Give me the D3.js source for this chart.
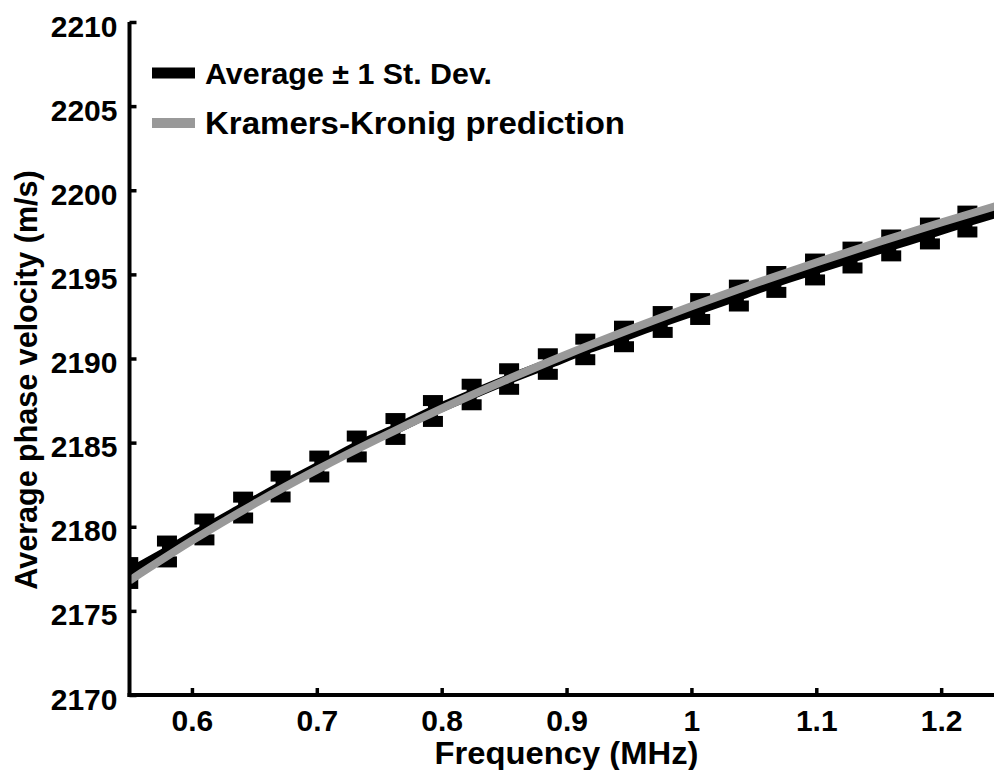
<!DOCTYPE html>
<html>
<head>
<meta charset="utf-8">
<script src="https://cdn.jsdelivr.net/npm/d3@7/dist/d3.min.js"></script>
<style>
  html, body { margin: 0; padding: 0; background: #fff; }
  svg { display: block; }
  text { font-family: "Liberation Sans", Arial, Helvetica, sans-serif; font-weight: bold; fill: #000; }
</style>
</head>
<body>
<svg id="chart" width="994" height="770"></svg>
<script>
// ---- data ----
const freq = [0.549, 0.580, 0.610, 0.641, 0.671, 0.702, 0.732, 0.763, 0.793, 0.824, 0.854, 0.885,
              0.915, 0.946, 0.977, 1.007, 1.038, 1.068, 1.099, 1.129, 1.160, 1.191, 1.221, 1.252];
const meanV = [2177.25, 2178.53, 2179.84, 2181.14, 2182.39, 2183.58, 2184.77, 2185.81, 2186.88, 2187.86, 2188.78, 2189.67,
               2190.54, 2191.31, 2192.17, 2192.94, 2193.74, 2194.55, 2195.29, 2196.00, 2196.72, 2197.43, 2198.14, 2198.84];
const sdV = [0.62, 0.62, 0.62, 0.62, 0.62, 0.62, 0.62, 0.62, 0.62, 0.61, 0.61, 0.61,
             0.61, 0.61, 0.62, 0.62, 0.62, 0.62, 0.62, 0.62, 0.62, 0.62, 0.62, 0.62];
const kkFreq = [0.55, 0.60, 0.65, 0.70, 0.75, 0.80, 0.85, 0.90, 0.95, 1.00, 1.05, 1.10, 1.15, 1.20, 1.25];
const kkV = [2176.80, 2179.17, 2181.36, 2183.38, 2185.26, 2187.02, 2188.67, 2190.24, 2191.71, 2193.11,
             2194.44, 2195.71, 2196.92, 2198.08, 2199.20];
const xTicks = [0.6, 0.7, 0.8, 0.9, 1.0, 1.1, 1.2];
const xTickLabels = ["0.6", "0.7", "0.8", "0.9", "1", "1.1", "1.2"];
const yTicks = [2170, 2175, 2180, 2185, 2190, 2195, 2200, 2205, 2210];
const legendLabels = ["Average \u00b1 1 St. Dev.", "Kramers-Kronig prediction"];
const xTitle = "Frequency (MHz)";
const yTitle = "Average phase velocity (m/s)";

// ---- layout ----
const svg = d3.select("#chart");
const x = d3.scaleLinear().domain([0.55, 1.25]).range([129.5, 1003.6]);
const y = d3.scaleLinear().domain([2170, 2210]).range([695, 22]);
const black = "#000", grey = "#999";

svg.append("defs").append("clipPath").attr("id", "plotclip")
  .append("rect").attr("x", x.range()[0]).attr("y", y.range()[1] - 10)
  .attr("width", x.range()[1] - x.range()[0]).attr("height", y.range()[0] - y.range()[1] + 10);

const plot = svg.append("g").attr("clip-path", "url(#plotclip)");

const pts = freq.map((f, i) => ({ f, m: meanV[i], s: sdV[i] }));

// error bars
const eb = plot.append("g").selectAll("g").data(pts).join("g");
eb.append("line")
  .attr("x1", d => x(d.f)).attr("x2", d => x(d.f))
  .attr("y1", d => y(d.m - d.s)).attr("y2", d => y(d.m + d.s))
  .attr("stroke", black).attr("stroke-width", 10);
[-1, 1].forEach(sgn => {
  eb.append("rect")
    .attr("x", d => x(d.f) - 10).attr("width", 20)
    .attr("y", d => y(d.m + sgn * d.s) - 5.5).attr("height", 11)
    .attr("fill", black);
});

// average line
plot.append("path").datum(pts)
  .attr("d", d3.line().x(d => x(d.f)).y(d => y(d.m)).curve(d3.curveMonotoneX))
  .attr("fill", "none").attr("stroke", black).attr("stroke-width", 10);

// KK prediction
plot.append("path").datum(kkFreq.map((f, i) => ({ f, v: kkV[i] })))
  .attr("d", d3.line().x(d => x(d.f)).y(d => y(d.v)).curve(d3.curveMonotoneX))
  .attr("fill", "none").attr("stroke", grey).attr("stroke-width", 8);

// ---- axes ----
const fontSize = 30;
const yAxis = svg.append("g").attr("transform", `translate(${x.range()[0]},0)`)
  .call(d3.axisLeft(y).tickValues(yTicks).tickSizeInner(-7).tickSizeOuter(0).tickPadding(12).tickFormat(d3.format("d")));
const xAxis = svg.append("g").attr("transform", `translate(0,${y.range()[0]})`)
  .call(d3.axisBottom(x).tickValues(xTicks).tickSizeInner(-7).tickSizeOuter(0).tickPadding(15)
    .tickFormat((d, i) => xTickLabels[i]));
[yAxis, xAxis].forEach(a => {
  a.select(".domain").attr("stroke", black).attr("stroke-width", 4);
  a.selectAll(".tick line").attr("stroke", black).attr("stroke-width", 3.5);
  a.selectAll(".tick text").attr("font-size", fontSize).attr("font-family", null).attr("fill", black);
});
yAxis.selectAll(".tick text").attr("dy", "0.47em");
yAxis.select(".domain").attr("d", `M0,${y.range()[1]}V${y.range()[0] + 2}`);
xAxis.select(".domain").attr("d", `M${x.range()[0] - 2},0H${x.range()[1]}`);

// axis titles
svg.append("text").attr("x", (x.range()[0] + x.range()[1]) / 2).attr("y", 764)
  .attr("text-anchor", "middle").attr("font-size", 31.5)
  .attr("textLength", 264).attr("lengthAdjust", "spacingAndGlyphs").text(xTitle);
svg.append("text").attr("transform", "translate(37,380) rotate(-90)")
  .attr("text-anchor", "middle").attr("font-size", 30.5).text(yTitle);

// legend
const legend = svg.append("g");
const legItems = [{ c: black, w: 11, yy: 73, len: 287 }, { c: grey, w: 10, yy: 123, len: 420 }];
legItems.forEach((it, i) => {
  legend.append("line").attr("x1", 152).attr("x2", 195).attr("y1", it.yy).attr("y2", it.yy)
    .attr("stroke", it.c).attr("stroke-width", it.w);
  legend.append("text").attr("x", 205).attr("y", it.yy + 10.5).attr("font-size", i === 1 ? 31 : fontSize)
    .attr("textLength", it.len).attr("lengthAdjust", "spacingAndGlyphs").text(legendLabels[i]);
});
</script>
</body>
</html>
